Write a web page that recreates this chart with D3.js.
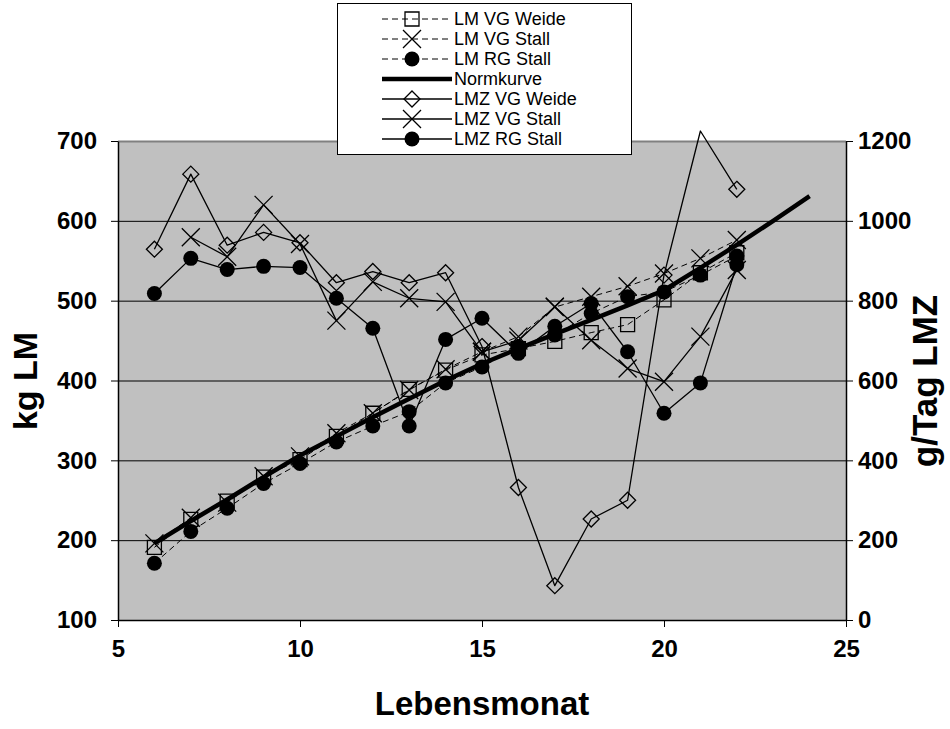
<!DOCTYPE html>
<html>
<head>
<meta charset="utf-8">
<script src="https://cdn.jsdelivr.net/npm/d3@7"></script>
<style>
  body { margin: 0; background: #fff; }
  svg { display: block; font-family: Arial, "Liberation Sans", sans-serif; }
</style>
</head>
<body>
<svg id="chart" width="950" height="729"></svg>
<script>
// months (Lebensmonat)
const months = [6, 7, 8, 9, 10, 11, 12, 13, 14, 15, 16, 17, 18, 19, 20, 21, 22];
const normMonths = [6, 7, 8, 9, 10, 11, 12, 13, 14, 15, 16, 17, 18, 19, 20, 21, 22, 23, 24];

// kg LM (left axis)
const lmVgWeide = [191, 226, 249, 279, 301, 330, 359, 389, 413, 432, 440, 449, 460, 470, 501, 535, 560];
const lmVgStall = [196, 228, 247, 280, 305, 334, 359, 388, 414, 436, 455, 492, 505, 518, 534, 553, 576];
const lmRgStall = [171, 211, 240, 271, 296, 323, 343, 361, 397, 417, 442, 457, 484, 505, 511, 532, 556];
const normkurve = [196, 224, 251, 279, 306, 330, 354, 377, 400, 421, 440, 458, 476, 494, 513, 541, 570, 600, 631];

// g/Tag LMZ (right axis)
const lmzVgWeide = [929, 1117, 939, 971, 945, 845, 873, 845, 870, 685, 332, 86, 253, 300, 864, 1225, 1079];
const lmzVgStall = [null, 959, 910, 1040, 942, 750, 847, 806, 797, 672, 700, 785, 701, 630, 597, 710, 877];
const lmzRgStall = [818, 906, 878, 886, 883, 806, 731, 486, 703, 756, 668, 736, 793, 672, 518, 594, 890];

const xTicks = [5, 10, 15, 20, 25];
const leftTicks = [100, 200, 300, 400, 500, 600, 700];
const rightTicks = [0, 200, 400, 600, 800, 1000, 1200];

const svg = d3.select("#chart");

const x = d3.scaleLinear().domain([5, 25]).range([118, 846]);
const yL = d3.scaleLinear().domain([100, 700]).range([620, 141]);
const yR = d3.scaleLinear().domain([0, 1200]).range([620, 141]);

// plot area
svg.append("rect")
  .attr("x", 118).attr("y", 141)
  .attr("width", 728).attr("height", 479)
  .attr("fill", "#c0c0c0");
svg.append("line")
  .attr("x1", 118).attr("x2", 846).attr("y1", 141.5).attr("y2", 141.5)
  .attr("stroke", "#808080").attr("stroke-width", 2);

// gridlines
svg.append("g")
  .attr("transform", "translate(118,0)")
  .call(d3.axisLeft(yL).tickValues([200, 300, 400, 500, 600]).tickSize(-728).tickFormat(""))
  .call(g => g.select(".domain").remove())
  .selectAll("line").attr("stroke", "#000");

// axes
const tickFont = g => g.selectAll("text")
  .attr("font-size", 24).attr("font-weight", "bold")
  .attr("font-family", "Arial, 'Liberation Sans', sans-serif").attr("fill", "#000");

svg.append("g")
  .attr("transform", "translate(118,0)")
  .call(d3.axisLeft(yL).tickValues(leftTicks).tickSize(7).tickSizeOuter(0).tickPadding(14))
  .call(tickFont)
  .call(g => g.select(".domain").attr("stroke-width", 1.5));

svg.append("g")
  .attr("transform", "translate(846,0)")
  .call(d3.axisRight(yR).tickValues(rightTicks).tickSize(7).tickSizeOuter(0).tickPadding(5).tickFormat(d3.format("d")))
  .call(tickFont)
  .call(g => g.select(".domain").attr("stroke-width", 1.5));

svg.append("g")
  .attr("transform", "translate(0,620)")
  .call(d3.axisBottom(x).tickValues(xTicks).tickSize(7).tickSizeOuter(0).tickPadding(13))
  .call(tickFont)
  .call(g => g.select(".domain").attr("stroke-width", 1.5));

// axis titles
svg.append("text")
  .attr("x", 482).attr("y", 715)
  .attr("text-anchor", "middle")
  .attr("font-size", 33).attr("font-weight", "bold")
  .text("Lebensmonat");

svg.append("text")
  .attr("transform", "translate(37,381) rotate(-90)")
  .attr("text-anchor", "middle")
  .attr("font-size", 34).attr("font-weight", "bold")
  .text("kg LM");

svg.append("text")
  .attr("transform", "translate(937,381) rotate(-90)")
  .attr("text-anchor", "middle")
  .attr("font-size", 35).attr("font-weight", "bold")
  .text("g/Tag LMZ");

// marker shapes
function markerPath(type) {
  if (type === "square") return "M-7,-7H7V7H-7Z";
  if (type === "diamond") return "M0,-8L8,0L0,8L-8,0Z";
  if (type === "x") return "M-9,-9L9,9M-9,9L9,-9";
  return null;
}

function drawMarker(g, type, cx, cy) {
  if (type === "circle") {
    g.append("circle").attr("cx", cx).attr("cy", cy).attr("r", 7.5).attr("fill", "#000");
  } else {
    g.append("path")
      .attr("d", markerPath(type))
      .attr("transform", `translate(${cx},${cy})`)
      .attr("fill", "none").attr("stroke", "#000").attr("stroke-width", 1.3);
  }
}

const series = [
  { name: "LM VG Weide", xs: months, values: lmVgWeide, y: yL, marker: "square", dash: "6,4", width: 1 },
  { name: "LM VG Stall", xs: months, values: lmVgStall, y: yL, marker: "x", dash: "6,4", width: 1 },
  { name: "LM RG Stall", xs: months, values: lmRgStall, y: yL, marker: "circle", dash: "6,4", width: 1 },
  { name: "Normkurve", xs: normMonths, values: normkurve, y: yL, marker: null, dash: null, width: 4.5 },
  { name: "LMZ VG Weide", xs: months, values: lmzVgWeide, y: yR, marker: "diamond", dash: null, width: 1.3 },
  { name: "LMZ VG Stall", xs: months, values: lmzVgStall, y: yR, marker: "x", dash: null, width: 1.3 },
  { name: "LMZ RG Stall", xs: months, values: lmzRgStall, y: yR, marker: "circle", dash: null, width: 1.3 }
];

series.forEach(function (s) {
  let pts = s.xs.map((m, i) => [m, s.values[i]]).filter(p => p[1] != null);
  let line = d3.line().x(p => x(p[0])).y(p => s.y(p[1]));
  let g = svg.append("g");
  g.append("path")
    .attr("d", line(pts))
    .attr("fill", "none")
    .attr("stroke", "#000")
    .attr("stroke-width", s.width)
    .attr("stroke-dasharray", s.dash)
    .attr("stroke-linejoin", "round");
  if (s.marker) {
    pts.forEach(p => {
      let dom = s.y.domain();
      if (p[1] >= dom[0] && p[1] <= dom[1]) drawMarker(g, s.marker, x(p[0]), s.y(p[1]));
    });
  }
});

// legend
let legend = svg.append("g");
legend.append("rect")
  .attr("x", 337.5).attr("y", 3.5)
  .attr("width", 294).attr("height", 151)
  .attr("fill", "#fff").attr("stroke", "#000").attr("stroke-width", 1);

series.forEach(function (s, i) {
  let yy = 19 + i * 20;
  legend.append("line")
    .attr("x1", 382).attr("x2", 452).attr("y1", yy).attr("y2", yy)
    .attr("stroke", "#000").attr("stroke-width", s.width)
    .attr("stroke-dasharray", s.dash);
  if (s.marker) drawMarker(legend, s.marker, 412, yy);
  legend.append("text")
    .attr("x", 454).attr("y", yy).attr("dy", "0.36em")
    .attr("font-size", 18)
    .text(s.name);
});
</script>
</body>
</html>
